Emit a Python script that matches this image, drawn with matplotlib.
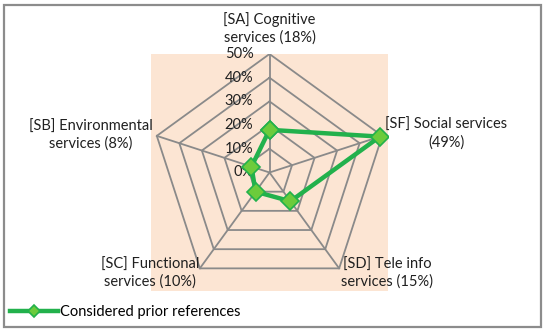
import numpy as np
import matplotlib.pyplot as plt
from matplotlib.patches import Rectangle

# radar data, clockwise from the top
categories = ["[SA] Cognitive\nservices (18%)", "[SF] Social services\n(49%)",
              "[SD] Tele info\nservices (15%)", "[SC] Functional\nservices (10%)",
              "[SB] Environmental\nservices (8%)"]
values = [0.18, 0.49, 0.15, 0.10, 0.08]
rings = [0.0, 0.1, 0.2, 0.3, 0.4, 0.5]
ring_labels = ["0%", "10%", "20%", "30%", "40%", "50%"]
series_name = "Considered prior references"

plt.rcParams['font.family'] = ['Lato', 'DejaVu Sans']

fig = plt.figure(figsize=(5.5, 3.34), dpi=100)
ax = fig.add_axes([151/550, 1-291/334, 237/550, 237/334])
ax.set_facecolor('#FCE5D3')
ax.set_xlim(-0.5, 0.5)
ax.set_ylim(-0.5, 0.5)
for s in ax.spines.values():
    s.set_visible(False)
ax.set_xticks([])
ax.set_yticks([])

n = len(categories)
ang = np.pi/2 - np.arange(n)*2*np.pi/n
ang_c = np.append(ang, ang[0])

grid = '#8a8a8a'
for r in rings[1:]:
    ax.plot(r*np.cos(ang_c), r*np.sin(ang_c), color=grid, lw=1.3, zorder=1)
for a in ang:
    ax.plot([0, 0.5*np.cos(a)], [0, 0.5*np.sin(a)], color=grid, lw=1.3, zorder=1)

for r, t in zip(rings, ring_labels):
    ax.text(-0.068, r, t, ha='right', va='center', fontsize=10.5, color='#202020', zorder=3)

v = np.append(values, values[0])
ax.plot(v*np.cos(ang_c), v*np.sin(ang_c), color='#22B14C', lw=3.2,
        marker='D', markersize=9, markerfacecolor='#6CCB3C',
        markeredgecolor='#22B14C', markeredgewidth=1.2, zorder=4, label=series_name)

label_pos = [(0, 0.608), (0.746, 0.163), (0.496, -0.424), (-0.504, -0.424), (-0.754, 0.157)]
for (x, y), c in zip(label_pos, categories):
    ax.text(x, y, c, ha='center', va='center', fontsize=10.5, color='#202020',
            linespacing=1.25, clip_on=False)

leg = fig.legend(loc='center left', bbox_to_anchor=(10/550, 1-312/334), frameon=False,
                 handlelength=3.3, handletextpad=0.1, borderpad=0, borderaxespad=0,
                 fontsize=10.5)
for h in leg.legend_handles:
    h.set_markersize(6)

fig.patches.append(Rectangle((4/550, 1-327/334), 537/550, 322/334, transform=fig.transFigure,
                             fill=False, edgecolor='#8c8c8c', lw=1.6))

fig.savefig('out.png', dpi=100)
